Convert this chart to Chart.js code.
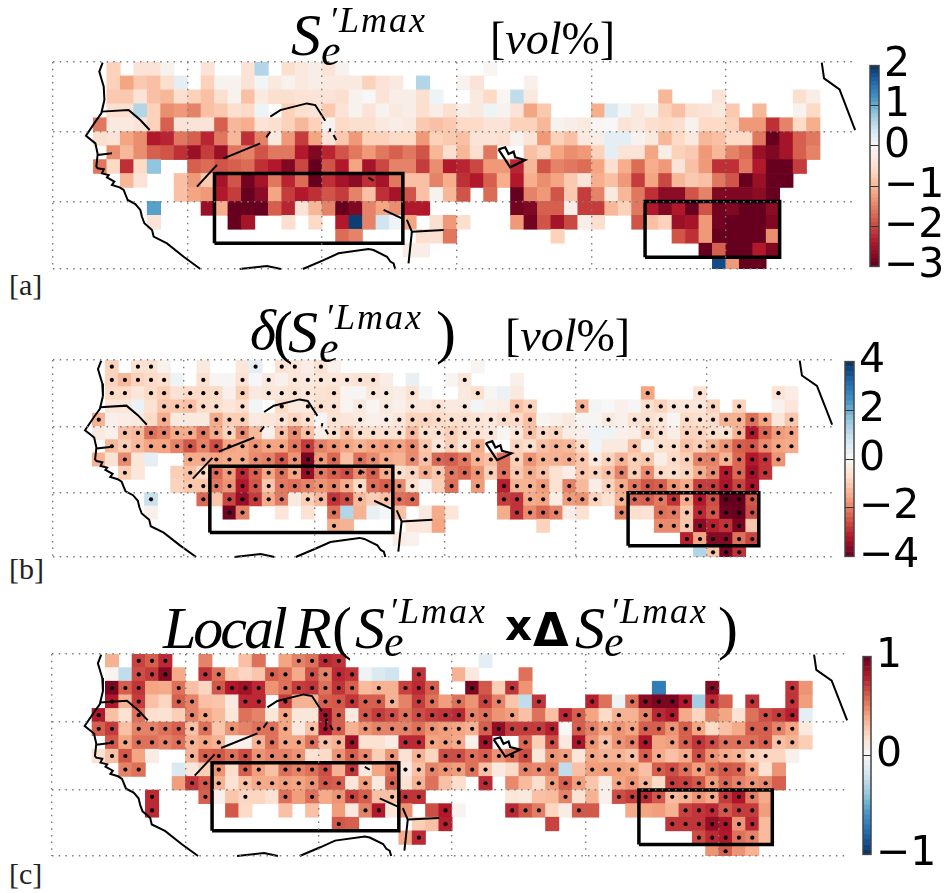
<!DOCTYPE html>
<html>
<head>
<meta charset="utf-8">
<title>S'e Lmax maps</title>
<script src="https://cdn.jsdelivr.net/npm/chart.js@4"></script>
<style>
  html, body { margin: 0; background: #fff; }
  body { width: 947px; height: 893px; position: relative; overflow: hidden; }
  canvas { position: absolute; }
  .t { position: absolute; z-index: 5; font-family: "Liberation Serif", serif; font-style: italic; line-height: 1; white-space: nowrap; color: #000; }
  .up { font-style: normal; }
  .tag { font-size: 30px; font-style: normal; color: #222; }
  .big { font-size: 60px; }
  .sup { font-size: 36px; letter-spacing: 2px; }
  .sub { font-size: 44px; }
  .unit { font-size: 46px; }
  .sans { font-family: "DejaVu Sans", sans-serif; font-style: normal; font-weight: bold; }
</style>
</head>
<body>
<div class="t big" style="left:291px;top:5px">S</div><div class="t sup" style="left:329px;top:2px">′Lmax</div><div class="t sub" style="left:321px;top:29px">e</div>
<div class="t unit" style="left:490px;top:16px"><span class="up">[</span>vol<span class="up">%]</span></div>

<div class="t big" style="left:250px;top:302px;font-size:56px">δ</div><div class="t big up" style="left:273px;top:302px">(</div><div class="t big" style="left:288px;top:302px">S</div><div class="t sup" style="left:325px;top:299px">′Lmax</div><div class="t sub" style="left:319px;top:326px">e</div><div class="t big up" style="left:436px;top:302px">)</div>
<div class="t unit" style="left:505px;top:313px"><span class="up">[</span>vol<span class="up">%]</span></div>

<div class="t big" style="left:163px;top:598px;letter-spacing:-3px">Local</div><div class="t big" style="left:295px;top:598px">R</div><div class="t big up" style="left:332px;top:598px">(</div><div class="t big" style="left:355px;top:598px">S</div><div class="t sup" style="left:389px;top:593px">′Lmax</div><div class="t sub" style="left:384px;top:620px">e</div>
<div class="t sans" style="left:505px;top:605px;font-size:42px">x</div><div class="t sans" style="left:533px;top:607px;font-size:46px">Δ</div>
<div class="t big" style="left:575px;top:598px">S</div><div class="t sup" style="left:610px;top:593px">′Lmax</div><div class="t sub" style="left:604px;top:620px">e</div><div class="t big up" style="left:718px;top:598px">)</div>

<div class="t tag" style="left:9px;top:270px">[a]</div>
<div class="t tag" style="left:9px;top:554px">[b]</div>
<div class="t tag" style="left:9px;top:859px">[c]</div>

<canvas id="mapA" style="left:50px;top:59px" width="813" height="213"></canvas>
<canvas id="mapB" style="left:49px;top:356px" width="791" height="205"></canvas>
<canvas id="mapC" style="left:48px;top:650px" width="807" height="210"></canvas>
<canvas id="barA" style="left:866px;top:36px" width="81" height="260"></canvas>
<canvas id="barB" style="left:841px;top:332px" width="106" height="254"></canvas>
<canvas id="barC" style="left:859px;top:627px" width="88" height="257"></canvas>

<script>
const _ = null;

// cells, one row per degree of latitude from 15N down, one column per degree from 17W
const aRows = [
  [_,-.7,_,-.4,-.4,-.1,_,_,-.4,_,  _,-.4,.6,_,-.5,-.3,-.2,-.4,-.1,_,  _,_,_,_,_,_,_,_,_,-.05,  _,_,_,_,_,_,_,_,_,_,  _,_,_,_,_,_,_,_,_,_,  _,_,_,_],
  [_,-.7,-1.2,-.8,-.9,-.5,.2,_,-.7,-.1,  -.1,-.4,.05,-.3,-.1,-.3,-.2,-.3,-.3,-.3,  -.7,-.4,-.3,_,.6,_,_,-.1,-.4,_,  _,_,-.15,_,_,_,_,_,_,_,  _,_,_,_,_,_,_,_,_,_,  _,_,_,_],
  [_,-.8,-.8,-.4,-.9,-1,-.5,-.7,-.9,-.5,  -.1,-.9,-.3,-.5,-.5,-.4,-.4,-.4,-.5,-.1,  0,-.4,-.2,-.2,-.5,.1,_,_,-.3,-.6,  -.05,.5,-.3,_,_,_,_,_,_,_,  _,_,-1,_,_,_,-.4,_,_,_,  _,_,-.5,-.2],
  [_,-.5,-.5,.6,-.7,-1.4,-1.3,-1.5,-.9,-.8,  -.5,-.6,.1,_,-.7,-.5,-.4,-.8,-.4,-.1,  -.4,-.1,-.3,-.2,-.5,-.2,-.5,-.2,-.3,.1,  -.1,-.4,-1.2,-.8,_,_,_,-1.1,.3,.05,  -.3,-.1,-.7,-.9,-.5,-.4,-.3,-.8,_,-1,  _,_,-.1,-.6],
  [-1.6,-.3,-.3,-.4,-.7,-1.8,-.4,-.4,-.4,-1.8,  -1,-1.1,-.4,-.5,-.7,-1,-.7,-.1,-.6,-.5,  -.5,-.3,-.2,-.3,-.8,-.9,-.8,-.6,-.6,-.4,  -.4,-.7,-.7,-1,-.1,-.2,-.3,-.05,0,-.4,  -.3,-.5,-.6,-.5,-.1,-.6,-.6,-.7,-1.3,-1.3,  -2.2,-1.5,-.6,-1.1],
  [-.5,-.4,-1.2,-1.4,-2.4,-2.3,-1.6,-1.8,-2.3,-1.6,  -1,-2.2,-1.5,-.3,-1.3,-2.1,-1.2,-.4,-.8,-1.3,  -.7,-.7,-.6,-.6,-1.3,-.7,-.8,-.9,-.4,-.4,  -.5,-.1,-.4,-1.3,-.7,-.9,-.3,-.2,.2,.2,  -.1,-.3,-1,-.6,-.3,-1,-.9,-.6,-.6,-1.6,  -3,-2.5,-1.8,-1.6],
  [_,-1.4,-1,-1.4,-1.8,-1.9,-2.2,-2.6,-2.1,-2.6,  -1.6,-1.5,-1.9,-1.6,-1.6,-2.4,-2.8,-2.3,-1.9,-1.6,  -1.3,-1.6,-1.8,-1.6,-1.9,-1,-.5,-1,-.5,-1.6,  _,_,-.9,-.7,-1.2,-1.4,-1.3,-.7,.2,-.4,  -.4,-1.2,-.2,-.7,-.8,-1.3,-1,-1.5,-1.7,-2.6,  -2.8,-2.5,-1.8,-1.5],
  [-1.6,-.6,-2.2,-.6,.8,_,_,-1.8,-1.7,-1.9,  -1.8,-1.7,-2.2,-2.4,-2.8,-2,-3,-1.9,-2.4,-1.2,  -2.5,-2,-1.5,-1.5,-2.1,-1.4,-2.4,-2.3,-2,-1.3,  -1.3,-2.3,-1,-1.9,-1.5,-1.6,-1.7,-1.2,-.5,-1.1,  -1.7,-1.1,-1.3,-.4,-.9,-1.3,-2.2,-2.2,-1.6,-2.4,  -3,-3,-2.1,_],
  [_,_,-1,-.4,_,_,-.9,-1.3,-.8,-2.5,  -1.9,-2.9,-2.5,-1.6,-2.3,-1.7,-3,-2.2,-2.5,-2.7,  -2.2,-2.5,-1.6,-.9,-.9,-1.5,-1.1,-2.2,-2.4,-1.8,  -1.1,-2.4,-1.1,-1.4,-1.2,-.8,-.4,-1.1,-.9,-1.3,  -2.1,-1.2,-2,-1,-.8,-.9,-1.6,-1.9,-3,-2.6,  -3,-3,_,_],
  [_,_,_,_,_,_,-.9,-1.2,-1.3,-2.4,  -2.1,-3,-2.7,-1.2,-2.1,-2.4,-2.2,-1.9,-2.1,-1.5,  -.9,-2.2,-2.5,-1.9,-.9,-.1,-1,-1.9,_,-1.7,  _,-3,-1.5,-1.3,-1.9,-.8,-2.1,-1.5,-.3,-1,  -1.6,-2.2,-2.7,-2.7,-1.9,-1.5,-2.8,-2.8,-2.8,-2.7,  -3,_,_,_],
  [_,_,_,_,1.1,_,_,_,-2.6,-1.1,  -3,-3,-3,-1.8,-2.3,-.4,-1,-1.5,-3,-2.8,  -1.5,-1.2,-1.4,-2.4,-2.4,_,_,_,_,_,  _,-2.9,-2.8,-1.8,-1.8,-.2,-2.1,-2.1,-1,-.7,  -1.6,-2.4,-2.8,-2.4,-3,-1.9,-2.9,-2.8,-3,-3,  -2.7,_,_,_],
  [_,_,_,_,-.4,_,_,_,_,_,  -3,-2.5,_,_,-.5,_,-.6,_,-2.4,1.9,  -1.5,.4,.1,-1.2,_,-.5,-1.3,-.5,_,_,  _,-1.3,-2.9,-1.9,-2.5,-2,-.2,-.5,_,_,  -1.9,-.9,-.7,-2.6,-2.5,-1.3,-2.9,-3,-3,-3,  -2.8,_,_,_],
  [_,_,_,_,_,_,_,_,_,_,  _,_,_,_,_,_,_,_,-1.7,-1.5,  _,_,_,_,-.5,-.5,-1.6,_,_,_,  _,_,_,_,-.7,_,_,_,_,_,  _,_,_,-1.9,-2.2,-1.3,-3,-3,-3,-3,  -1.4,_,_,_],
  [_,_,_,_,_,_,_,_,_,_,  _,_,_,_,_,_,_,_,_,_,  _,_,_,-.2,-.2,_,_,_,_,_,  _,_,_,_,_,_,_,_,_,_,  _,_,_,_,_,-3,-1.8,-3,-3,-2.4,  -2.8,_,_,_],
  [_,_,_,_,_,_,_,_,_,_,  _,_,_,_,_,_,_,_,_,_,  _,_,_,_,_,_,_,_,_,_,  _,_,_,_,_,_,_,_,_,_,  _,_,_,_,_,_,1.8,-1.3,-3,-3,  _,_,_,_]
];

const bRows = [
  [_,-.9,_,-.6,-.6,-.15,_,_,-.4,_,  _,-.5,.4,_,-.6,-.5,-.3,-.6,-.2,_,  _,_,_,_,_,_,_,_,_,-.1,  _,_,_,_,_,_,_,_,_,_,  _,_,_,_,_,_,_,_,_,_,  _,_,_,_],
  [_,-.9,-1.3,-.9,-.8,-.7,.2,_,-.7,-.1,  -.1,-.6,.05,-.4,-.2,-.5,-.4,-.5,-.5,-.5,  -.6,-.6,-.3,_,.3,_,_,-.1,-.5,_,  _,_,-.2,_,_,_,_,_,_,_,  _,_,_,_,_,_,_,_,_,_,  _,_,_,_],
  [_,-.8,-.8,-.5,-.8,-1,-.6,-.8,-.8,-.8,  -.2,-1,-.4,-.5,-.5,-.6,-.5,-.6,-.7,-.1,  -.05,-.5,-.4,-.3,-.6,.05,_,_,-.4,-.7,  -.05,.25,-.4,_,_,_,_,_,_,_,  _,_,-1.6,_,_,_,-.6,_,_,_,  _,_,-.6,-.3],
  [_,-.5,-.5,.25,-.6,-1.1,-1.1,-1.2,-.8,-.7,  -.5,-.7,.1,_,-.8,-.4,-.4,-.7,-.6,-.1,  -.4,-.1,-.4,-.2,-.5,-.4,-.6,-.4,-.4,.1,  -.2,-.3,-1.2,-.9,_,_,_,-1.4,.1,0,  -.2,-.05,-.7,-.9,-.5,-.5,-.5,-.9,_,-.9,  _,_,-.15,-.5],
  [-1.4,-.2,-.3,-.4,-.8,-1.5,-.4,-.4,-.4,-1.5,  -1,-1,-.4,-.5,-.6,-.9,-.7,-.05,-.6,-.5,  -.4,-.2,-.3,-.5,-.9,-.9,-.8,-.7,-.7,-.6,  -.5,-.8,-.8,-1.2,-.1,-.2,-.4,-.05,-.05,-.4,  -.2,-.6,-.7,-.5,-.1,-.8,-.7,-.8,-1.4,-1.4,  -2.2,-1.6,-.5,-1.1],
  [-.4,-.2,-1.2,-1.3,-2.2,-2,-1.5,-1.5,-2.1,-1.5,  -.9,-1.9,-1.3,-.2,-1.2,-1.9,-1.2,-.3,-.7,-1.2,  -.7,-.7,-.6,-.6,-1.3,-.7,-.7,-1,-.7,-.6,  -.5,-.1,-.5,-1.2,-.8,-.9,-.3,-.2,.2,.2,  -.2,-.3,-1,-.6,-.3,-.9,-.9,-.7,-.6,-1.4,  -3.2,-2.3,-1.7,-1.6],
  [_,-1.3,-1,-1.3,-1.6,-1.6,-2,-2.5,-2,-2.6,  -1.6,-1.5,-1.8,-1.6,-1.6,-2.1,-2.8,-2,-1.8,-1.6,  -1.4,-1.6,-1.7,-1.6,-1.9,-1.1,-.5,-1,-.5,-1.5,  _,_,-.9,-.7,-1.2,-1.4,-1.3,-.8,.15,-.4,  -.4,-1.2,-.15,-.7,-.7,-1.2,-1,-1.4,-1.8,-2.4,  -2.5,-1.9,-1.6,-1.5],
  [-1.4,-.6,-1.9,-.5,.4,_,_,-1.5,-1.5,-1.6,  -1.5,-1.5,-1.9,-2,-2.5,-1.8,-3.8,-1.7,-2.3,-1.2,  -2.2,-1.9,-1.5,-1.4,-1.9,-1.2,-2.3,-2.4,-2.1,-1.4,  -1.2,-2.2,-1,-1.8,-1.4,-1.4,-1.5,-1.1,-.4,-.9,  -1.4,-1,-1.1,-.3,-.8,-1,-2,-2,-1.4,-2.3,  -3.2,-2.9,-1.8,_],
  [_,_,-1,-.5,_,_,-1,-1.2,-.8,-2.3,  -1.7,-3,-2.4,-1.6,-2.2,-1.6,-3.5,-2.1,-2.4,-2.6,  -1.9,-2.4,-1.5,-.7,-.9,-1.5,-1.1,-2.1,-2.3,-1.8,  -1,-2.2,-1.1,-1.5,-1.2,-.6,-.3,-1.1,-.9,-1.2,  -2,-1,-1.9,-.8,-.7,-.9,-1.5,-1.9,-3.2,-2.3,  -3.4,-2.9,_,_],
  [_,_,_,_,_,_,-.9,-1.1,-1.1,-2.1,  -1.8,-3.2,-2.5,-1.1,-2.1,-2.2,-2,-1.8,-2,-1.5,  -.8,-2.2,-2.4,-1.9,-.7,-.1,-1,-2.2,_,-1.7,  _,-3.1,-1.4,-1.4,-1.7,-.6,-2,-1.3,-.3,-.9,  -1.5,-2.1,-2.5,-2.4,-1.8,-1.5,-2.8,-2.8,-3.3,-2.7,  -3.3,_,_,_],
  [_,_,_,_,.9,_,_,_,-2.3,-1.1,  -2.7,-3.5,-2.8,-1.5,-2.1,-.4,-1,-1.3,-2.9,-2.6,  -1.3,-1,-1.2,-2.2,-2.3,_,_,_,_,_,  _,-2.8,-2.9,-1.5,-1.6,-.3,-1.7,-1.8,-.9,-.6,  -1.4,-2.3,-2.4,-2.1,-2.9,-1.5,-3.2,-2.6,-4,-4,  -2.5,_,_,_],
  [_,_,_,_,-.2,_,_,_,_,_,  -3.9,-2,_,_,-.5,_,-.6,_,-2.2,1.2,  -1.4,.3,.05,-1.2,_,-.4,-1.5,-.5,_,_,  _,-1.5,-2.9,-1.9,-2.3,-2,-.3,-.6,_,_,  -2,-.7,-.6,-2.2,-2.1,-1.1,-3,-2.5,-3.9,-4,  -2.6,_,_,_],
  [_,_,_,_,_,_,_,_,_,_,  _,_,_,_,_,_,_,_,-1.5,-1.4,  _,_,_,_,-.5,-.5,-1.6,_,_,_,  _,_,_,_,-.9,_,_,_,_,_,  _,_,_,-1.9,-1.9,-1.1,-3.6,-3.1,-2.9,-3.8,  -1.1,_,_,_],
  [_,_,_,_,_,_,_,_,_,_,  _,_,_,_,_,_,_,_,_,_,  _,_,_,-.3,-.15,_,_,_,_,_,  _,_,_,_,_,_,_,_,_,_,  _,_,_,_,_,-3.1,-1.6,-3.7,-3.7,-2.2,  -2.7,_,_,_],
  [_,_,_,_,_,_,_,_,_,_,  _,_,_,_,_,_,_,_,_,_,  _,_,_,_,_,_,_,_,_,_,  _,_,_,_,_,_,_,_,_,_,  _,_,_,_,_,_,1.2,-1.1,-3.8,-2.9,  _,_,_,_]
];

const cRows = [
  [_,.35,_,.68,.6,.75,_,_,.5,_,  _,.3,.55,_,.4,.5,.55,.75,.72,_,  _,_,_,_,_,_,_,_,_,-.1,  _,_,_,_,_,_,_,_,_,_,  _,_,_,_,_,_,_,_,_,_,  _,_,_,_],
  [_,.03,-.25,.65,.7,.92,.38,_,.72,.55,  .28,.22,.28,.6,.55,.38,.65,.5,.75,.72,  -.05,-.15,-.2,_,.72,_,_,.35,.1,_,  _,_,.55,_,_,_,_,_,_,_,  _,_,_,_,_,_,_,_,_,_,  _,_,_,_],
  [_,.95,.6,.72,.4,.38,.55,.3,.22,.62,  .8,.85,.75,.45,.55,.7,.72,.55,.72,.6,  .32,.35,.35,.68,.75,.6,_,_,.95,.62,  .25,.72,.45,_,_,_,_,_,_,_,  _,_,-.7,_,_,_,.92,_,_,_,  _,_,.72,.45],
  [_,.8,.35,.7,.3,.22,.6,.5,.3,.28,  .1,.75,.75,_,.7,.35,.35,.6,.62,.72,  .6,.6,.35,.5,.7,.55,.42,.55,.45,.68,  .5,.28,-.25,.72,_,_,_,.78,.55,-.05,  .55,.9,.95,.95,.8,-.35,.75,.6,_,.72,  _,_,.72,.42],
  [.8,.3,.15,.55,.17,.15,.25,.5,.4,.32,  .12,.55,.5,.12,.4,.12,.12,.85,.6,.1,  .62,.7,.65,.55,.65,.7,.72,.75,.5,.55,  .45,.42,.3,.55,.3,.75,.6,.4,.2,.35,  .35,.5,.75,.8,.38,.22,.5,.4,.15,.55,  .65,.7,.78,-.1],
  [.6,.7,.3,.5,.5,.55,.6,.3,.55,.28,  .45,.5,.55,.55,.4,.1,.3,.82,.6,.35,  .45,.5,.5,.5,.55,.45,.42,.4,.35,.6,  .88,.7,.7,.7,.78,0,.6,.5,.4,.45,  .4,.6,.6,.45,.6,.4,.2,.3,.38,.6,  .6,.5,.4,.1],
  [_,.62,.4,.55,.55,.5,.55,.35,.4,.35,  .05,.05,.35,.55,.4,.4,.55,.3,.35,.85,  .15,.15,.08,.75,.75,.4,.42,.38,.05,.85,  _,_,.58,.25,.65,.1,.82,.45,.3,.45,  .5,.82,.4,.42,.6,.72,.65,.55,.55,.55,  .6,.3,.35,.25],
  [.15,.3,.62,.4,.08,_,_,.35,.6,.62,  .55,.65,.45,.5,.5,.45,.15,.2,.45,.6,  .48,.25,.45,.15,.35,.22,.65,.65,.55,.6,  .45,.55,.65,.12,.45,.42,.12,.4,.35,.35,  .3,.6,.38,.3,.38,.65,.45,.38,.35,.25,  .22,.22,.05,_],
  [_,_,.5,.55,_,_,-.15,.12,.25,.45,  .18,.6,.42,.3,.55,.5,.55,.65,.35,.72,  .1,.4,.55,.1,.3,.5,.45,.42,.55,.3,  .1,.2,.5,.48,.5,-.25,.3,.42,.42,.42,  .4,.3,.6,.65,.55,.42,.55,.62,.6,.4,  .15,.45,_,_],
  [_,_,_,_,_,_,.42,.72,.62,.35,  .15,.3,.38,.38,.42,.4,.45,.62,.6,.12,  .42,.1,.6,.15,.35,.55,.3,.18,_,.75,  _,.48,.32,.18,.42,.6,.42,.28,.06,.4,  .45,.35,.2,.7,.68,.62,.42,.58,.5,.45,  .48,.6,_,_],
  [_,_,_,_,.75,_,_,_,.6,.05,  .28,.22,.22,.15,.55,.42,.55,.38,.45,.68,  .6,.3,.3,.72,.72,_,_,_,_,_,  _,.12,.1,.3,.32,.5,.15,.35,.05,.65,  .7,.75,.62,.32,.35,.45,.38,.7,.82,.52,  .38,_,_,_],
  [_,_,_,_,.75,_,_,_,_,_,  .62,.2,_,_,.3,_,.3,_,.42,.1,  .5,.8,.12,.45,_,.65,.8,.03,_,_,  _,.75,.62,.52,.22,.08,.62,.62,_,_,  .38,.4,.42,.35,.68,.72,.75,.62,.7,.7,  .42,_,_,_],
  [_,_,_,_,_,_,_,_,_,_,  _,_,_,_,_,_,_,_,.62,.6,  _,_,_,_,.25,.3,.78,_,_,_,  _,_,_,_,.68,_,_,_,_,_,  _,_,_,.72,.72,.72,.88,.82,.45,.75,  .32,_,_,_],
  [_,_,_,_,_,_,_,_,_,_,  _,_,_,_,_,_,_,_,_,_,  _,_,_,.38,.75,_,_,_,_,_,  _,_,_,_,_,_,_,_,_,_,  _,_,_,_,_,.65,.75,.8,.55,.5,  .32,_,_,_],
  [_,_,_,_,_,_,_,_,_,_,  _,_,_,_,_,_,_,_,_,_,  _,_,_,_,_,_,_,_,_,_,  _,_,_,_,_,_,_,_,_,_,  _,_,_,_,_,_,.45,.6,.45,.35,  _,_,_,_]
];

// stippled cells: column numbers per row
const bDots = [
  [1,3,4,12,14,15,17],
  [1,2,3,4,5,8,11,13,15,16,17,18,19,20,21,28],
  [1,2,4,5,7,8,9,11,13,14,15,16,18,21,22,24,29,42,46,52],
  [5,6,7,8,9,11,14,16,17,18,20,22,24,26,28,32,33,37,42,43,44,45,46,47,49],
  [0,5,9,10,11,14,15,16,18,20,22,23,24,25,26,27,28,29,30,31,32,33,39,41,42,43,45,46,47,48,49,50,51,53],
  [2,3,4,5,6,7,8,9,10,11,14,15,16,18,19,20,21,22,23,24,25,26,27,28,29,30,32,33,34,35,42,43,45,46,47,48,49,50,51,52,53],
  [1,2,3,4,5,6,7,8,9,10,11,12,13,14,15,16,17,18,19,20,21,22,23,24,25,26,27,28,29,32,33,34,35,36,37,41,43,44,45,46,47,48,49,50,51,52,53],
  [2,7,8,9,10,11,12,13,14,15,16,17,18,20,21,22,24,25,26,27,28,29,30,32,33,34,35,36,37,38,39,40,41,42,44,45,46,47,48,49,50,51,52],
  [2,7,8,9,10,11,12,13,14,15,16,17,18,19,20,21,22,23,24,25,26,27,28,29,30,31,32,33,34,37,38,39,40,41,42,43,44,45,46,47,48,49,50,51],
  [7,8,9,10,11,12,13,14,15,16,17,18,19,20,21,22,23,24,27,29,31,32,33,34,36,39,40,41,42,43,44,45,46,47,48,49,50],
  [4,8,10,11,12,13,14,16,17,18,19,20,22,23,24,31,32,33,34,36,37,38,40,41,42,43,44,45,46,47,48,49,50],
  [10,11,18,32,33,34,35,40,43,44,45,46,47,48,49,50],
  [18,43,44,45,46,47,48,49],
  [45,46,47,48,49,50],
  [47,48,49]
];

const cDots = [
  [3,4,5,15,16,17,18],
  [3,4,5,8,9,13,14,16,17,18,19,24],
  [1,2,3,6,9,10,11,12,14,15,16,17,18,19,21,23,24,25,28,31,46,52],
  [1,3,6,7,11,12,14,17,18,19,20,21,22,24,25,27,29,30,33,37,40,41,42,43,44,46,49,52],
  [0,3,7,8,14,17,18,20,21,22,23,24,25,26,27,28,29,31,35,36,39,41,42,43,50,51,52],
  [0,1,3,4,5,6,7,8,10,12,13,14,16,17,18,20,21,22,23,24,25,26,27,28,29,30,31,32,33,34,36,37,38,39,40,41,42,43,44,45,49,50,51,52],
  [1,2,3,4,5,6,7,8,9,12,13,14,15,16,17,18,19,23,24,25,26,27,29,32,34,36,37,38,39,40,41,43,44,45,46,47,48,49,50,51,52],
  [1,2,7,8,9,10,11,12,13,14,15,18,19,20,22,24,26,27,28,29,30,31,32,34,35,37,38,39,40,41,42,44,45,46,47,48,49,50],
  [2,3,9,11,12,14,15,16,17,19,22,23,24,25,26,27,28,29,32,33,34,37,38,39,40,42,43,44,45,46,47,48,49],
  [7,8,9,11,12,13,14,15,16,17,18,20,22,24,29,34,35,36,39,40,41,43,44,45,46,47,48,49,50],
  [4,8,11,14,16,18,19,20,22,23,24,35,39,40,41,42,43,44,45,46,47,48,49],
  [4,20,21,26,31,32,33,36,44,45,46,47,48,49],
  [18,26,43,44,45,46,47,48,49],
  [24,45,46,47,48,49],
  [47]
];

// coastlines, borders and boxes as [lon, lat]
const westCoast = [[-16.31,14.95],[-16.56,14.31],[-16.23,13.23],[-16.18,12.28],[-16.41,11.32],[-16.85,10.72],[-17.55,9.71],[-16.85,9.16],[-16.68,8.4],[-16.78,7.5],[-16.68,7.38],[-16.23,7.3],[-16.36,7.01],[-15.86,6.89],[-15.99,6.72],[-15.44,6.42],[-15.62,6.18],[-15.05,6.01],[-14.75,5.82],[-14.45,5.1],[-13.88,4.81],[-13.51,4.39],[-13.39,3.9],[-13.21,3.43],[-12.64,2.95],[-12.52,2.47],[-11.53,1.99],[-10.29,1.03],[-9.05,.15]];
const gulfA = [[-6.13,.15],[-4.1,.37],[-3.06,.15]];
const gulfB = [[-1.43,.15],[.11,.79],[1.22,1.28],[3.45,1.59],[3.82,1.51],[4.82,1.03],[5.07,.68],[5.31,.55],[5.43,.15]];
const eastCoast = [[37.13,14.95],[37.3,13.83],[38.45,13.04],[39.61,10.12],[39.86,10.36]];
const lake = [[13.11,8.73],[13.61,8.88],[13.85,8.4],[14.23,8.57],[14.35,8.16],[15.09,7.97],[13.98,7.45],[13.11,8.73]];
const riverParts = [
  [[-16.41,11.44],[-14.38,11.56],[-13.51,10.84],[-12.82,10.12]],
  [[-16.68,8.33],[-15.62,8.45]],
  [[-9.3,6.06],[-7.81,7.62]],
  [[-7.32,8.09],[-4.6,9.16]],
  [[-4.15,9.59],[-3.85,10]],
  [[-3.85,11.08],[-3.11,11.55],[-1.13,12.03],[-.51,11.91],[.23,10.79]],
  [[.61,10.24],[.56,10]],
  [[.85,9.76],[1.05,9.41]],
  [[3.45,6.7],[3.82,6.49]],
  [[4.57,4.39],[5.93,3.78]],
  [[6.3,3.67],[6.67,2.83],[6.42,.55]],
  [[6.67,2.83],[9.03,2.95]]
];
const boxWest = [[-8,2],[6,2],[6,7],[-8,7],[-8,2]];
const boxEast = [[24,1],[34,1],[34,5],[24,5],[24,1]];

const aTicks = [-3,-2,-1,0,1,2];
const bTicks = [-4,-2,0,2,4];
const cTicks = [-1,0,1];

const rdbu = [[5,48,97],[33,102,172],[67,147,195],[146,197,222],[209,229,240],[247,247,247],[253,219,199],[244,165,130],[214,96,77],[178,24,43],[103,0,31]];

// sign = -1: negative values go red, sign = 1: positive values go red
function colorOf(v, lo, hi, sign) {
  let t = v < 0 ? .5 + .5 * v / lo : .5 - .5 * v / hi;
  if (sign > 0) t = 1 - t;
  const p = Math.min(t * 10, 9.999), i = Math.floor(p), f = p - i;
  const c = rdbu[i].map((a, n) => Math.round(a + (rdbu[i + 1][n] - a) * f));
  return `rgb(${c[0]},${c[1]},${c[2]})`;
}

function lineSet(points, width) {
  return {
    type: "scatter", showLine: true, order: 1, clip: 6,
    data: points.map(p => ({ x: p[0], y: p[1] })),
    borderColor: "#000", borderWidth: width, pointRadius: 0, tension: 0
  };
}

function drawMap(id, rows, dots, lo, hi, sign) {
  const cells = [], colors = [], stipple = [];
  rows.forEach((row, r) => row.forEach((v, k) => {
    if (v === null) return;
    cells.push({ x: k - 16.5, y: [14 - r, 15 - r] });
    colors.push(colorOf(v, lo, hi, sign));
  }));
  if (dots) dots.forEach((row, r) => row.forEach(k => stipple.push({ x: k - 16.5, y: 14.5 - r })));

  const gridOpts = { color: "#7c7c7c", lineWidth: 1.4, drawTicks: false, z: 1 };
  const borderOpts = { display: false, dash: [1.5, 5.2] };
  const datasets = [
    { type: "bar", order: 3, data: cells, backgroundColor: colors, barPercentage: 1, categoryPercentage: 1 },
    { type: "scatter", order: 2, data: stipple, backgroundColor: "#000", borderWidth: 0, pointRadius: 2.1 },
    lineSet(westCoast, 2), lineSet(gulfA, 2), lineSet(gulfB, 2), lineSet(eastCoast, 2), lineSet(lake, 2.2)
  ];
  riverParts.forEach(p => datasets.push(lineSet(p, 2)));
  datasets.push(lineSet(boxWest, 3.5), lineSet(boxEast, 3.5));

  new Chart(document.getElementById(id), {
    type: "bar",
    data: { datasets: datasets },
    options: {
      responsive: false,
      animation: false,
      layout: { padding: { left: 3, right: 8, top: 3, bottom: 3 } },
      plugins: { legend: { display: false }, tooltip: { enabled: false } },
      scales: {
        x: { type: "linear", offset: false, min: -20, max: 39.6, ticks: { display: false, stepSize: 10, includeBounds: false }, grid: Object.assign({ offset: false }, gridOpts), border: borderOpts },
        y: { type: "linear", min: .15, max: 15, ticks: { display: false, stepSize: 5 }, grid: gridOpts, border: borderOpts }
      }
    }
  });
}

const frame = {
  id: "frame",
  afterDraw(chart) {
    const a = chart.chartArea, c = chart.ctx;
    c.save();
    c.strokeStyle = "#444";
    c.lineWidth = 1.5;
    c.strokeRect(a.left, a.top, a.right - a.left, a.bottom - a.top);
    c.restore();
  }
};

function drawBar(id, ticks, step, sign, padLeft, padTop, padBottom, barWidth) {
  const lo = ticks[0], hi = ticks[ticks.length - 1];
  const canvas = document.getElementById(id);
  const datasets = [];
  const n = Math.round((hi - lo) / step);
  for (let i = 0; i < n; i++) {
    const a = lo + i * step, b = a + step;
    datasets.push({ data: [[a, b]], backgroundColor: colorOf((a + b) / 2, lo, hi, sign), barPercentage: 1, categoryPercentage: 1 });
  }
  new Chart(canvas, {
    type: "bar",
    data: { labels: [""], datasets: datasets },
    plugins: [frame],
    options: {
      responsive: false,
      animation: false,
      datasets: { bar: { grouped: false } },
      layout: { padding: { left: padLeft, right: 0, top: padTop, bottom: padBottom } },
      plugins: { legend: { display: false }, tooltip: { enabled: false } },
      scales: {
        x: { display: false },
        y: {
          position: "right", min: lo, max: hi,
          afterFit: s => { s.width = canvas.width - padLeft - barWidth; },
          afterBuildTicks: s => { s.ticks = ticks.map(v => ({ value: v })); },
          ticks: {
            autoSkip: false, padding: 5, color: "#000", font: { family: "DejaVu Sans", size: 41 },
            callback: v => (v < 0 ? "\u2212" + Math.abs(v) : String(v))
          },
          grid: { color: "#333", lineWidth: 1, drawTicks: false, z: 1 },
          border: { display: false }
        }
      }
    }
  });
}

drawMap("mapA", aRows, null, -3, 2, -1);
drawMap("mapB", bRows, bDots, -4, 4, -1);
drawMap("mapC", cRows, cDots, -1, 1, 1);
drawBar("barA", aTicks, .1, -1, 4, 26, 26, 9);
drawBar("barB", bTicks, .2, -1, 4, 26, 26, 9);
drawBar("barC", cTicks, .05, 1, 4, 26, 26, 8);
</script>
</body>
</html>
